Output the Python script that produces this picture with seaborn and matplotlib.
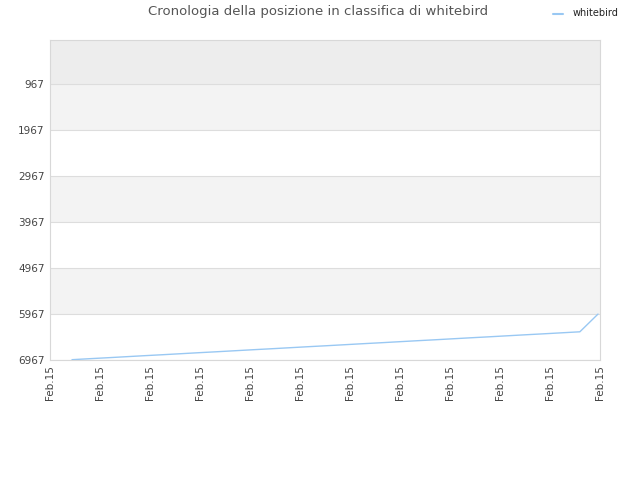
import pandas as pd
import seaborn as sns
import matplotlib.pyplot as plt

# Rank history (lower rank number = better)
steps = list(range(30))
ranks = [6960, 6938, 6917, 6895, 6873, 6852, 6830, 6808, 6787, 6765,
         6743, 6722, 6700, 6678, 6657, 6635, 6613, 6592, 6570, 6548,
         6527, 6505, 6483, 6462, 6440, 6418, 6397, 6375, 6353, 5967]
y_ticks = [967, 1967, 2967, 3967, 4967, 5967, 6967]
x_labels = ['Feb.15'] * 12
player = 'whitebird'

df = pd.DataFrame({'step': steps, 'rank': ranks, 'who': player})

sns.set_style('white')
plt.rcParams['font.family'] = ['DejaVu Sans']

fig = plt.figure(figsize=(6.4, 4.8), dpi=100)
ax = fig.add_axes([50 / 640, 1 - 360 / 480, 550 / 640, 320 / 480])

# alternating background bands
ax.axhspan(0, 967, color='#ededed', zorder=0, lw=0)
for lo, hi in zip(y_ticks[:-1], y_ticks[1:]):
    if (lo // 1000) % 2 == 0:
        ax.axhspan(lo, hi, color='#f3f3f3', zorder=0, lw=0)

sns.lineplot(data=df, x='step', y='rank', hue='who', palette=['#99c8f3'],
             linewidth=1.0, ax=ax, legend=False, zorder=3)

ax.set_ylim(6967, 0)
x0, x1 = -22 / 18.14, 29 + 2 / 18.14
ax.set_xlim(x0, x1)
ax.set_yticks(y_ticks)
ax.set_yticklabels([str(t) for t in y_ticks], fontsize=7.5, color='#444444')
tick_pos = [x0 + i * (x1 - x0) / 11 for i in range(12)]
ax.set_xticks(tick_pos)
ax.set_xticklabels(x_labels, rotation=90, fontsize=7.5, color='#444444')
ax.tick_params(length=0, pad=4)
ax.grid(axis='y', color='#dddddd', linewidth=0.8)
ax.set_axisbelow(True)
for s in ax.spines.values():
    s.set_color('#d8d8d8')
    s.set_linewidth(0.8)
ax.set_xlabel('')
ax.set_ylabel('')

fig.text(318 / 640, 1 - 12 / 480, 'Cronologia della posizione in classifica di ' + player,
         ha='center', va='center', fontsize=9.5, color='#555555')

# legend
fig.add_artist(plt.Line2D([553 / 640, 563 / 640], [1 - 13.5 / 480] * 2,
                          color='#99c8f3', linewidth=1.5))
fig.text(573 / 640, 1 - 13 / 480, player, ha='left', va='center',
         fontsize=7, color='#222222')

fig.savefig('out.png', dpi=100)
